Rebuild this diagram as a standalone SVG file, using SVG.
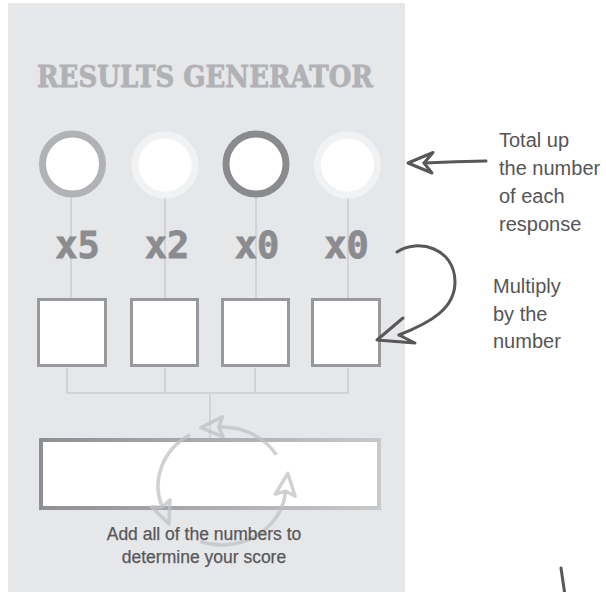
<svg xmlns="http://www.w3.org/2000/svg" width="606" height="592" viewBox="0 0 606 592">
  <defs>
    <style>
      .title { font-family: "DejaVu Serif", "Liberation Serif", serif; font-weight: bold; font-size: 29px; fill: #b1b2b5; stroke: #b1b2b5; stroke-width: 0.8; }
      .mult { font-family: "DejaVu Sans Mono", "Liberation Mono", monospace; font-weight: bold; font-size: 37px; fill: #8b8c8f; text-anchor: middle; stroke: #8b8c8f; stroke-width: 0.8; }
      .ring { fill: #ffffff; stroke-width: 7; }
      .box { fill: #ffffff; stroke: #98999c; stroke-width: 3; }
      .conn { stroke: #d2d3d5; stroke-width: 2; fill: none; }
      .note { font-family: "Liberation Sans", Arial, sans-serif; font-size: 20px; fill: #555556; }
      .foot { font-family: "Liberation Sans", Arial, sans-serif; font-size: 17.5px; fill: #58585a; text-anchor: middle; stroke: #58585a; stroke-width: 0.25; }
      .hand { stroke: #58585a; stroke-width: 3; fill: none; stroke-linecap: round; stroke-linejoin: round; }
      .cyc { stroke: #c0c1c4; stroke-opacity: 0.75; stroke-width: 3.5; fill: none; }
    </style>
    <linearGradient id="bigGrad" gradientUnits="userSpaceOnUse" x1="39" y1="0" x2="381" y2="0">
      <stop offset="0" stop-color="#8e8f92"/>
      <stop offset="1" stop-color="#c8c9cb"/>
    </linearGradient>
    <marker id="cycHead" markerUnits="userSpaceOnUse" markerWidth="40" markerHeight="40" refX="0" refY="0" orient="auto" overflow="visible" viewBox="-20 -20 40 40">
      <path d="M-3,-10 L19,0 L-3,10 L1,0 Z" fill="none" stroke="#c0c1c4" stroke-opacity="0.75" stroke-width="3.5" stroke-linejoin="round"/>
    </marker>
  </defs>

  <rect id="panel" x="8" y="3" width="397" height="589" fill="#e6e7e9"/>

  <g id="title">
    <text class="title" x="37" y="87" textLength="336" lengthAdjust="spacingAndGlyphs">RESULTS GENERATOR</text>
  </g>

  <g id="connectors">
    <line class="conn" x1="71" y1="197" x2="71" y2="298"/>
    <line class="conn" x1="165" y1="198" x2="165" y2="298"/>
    <line class="conn" x1="256" y1="197" x2="256" y2="298"/>
    <line class="conn" x1="348" y1="198" x2="348" y2="298"/>
    <line class="conn" x1="67" y1="368" x2="67" y2="393"/>
    <line class="conn" x1="165" y1="368" x2="165" y2="393"/>
    <line class="conn" x1="255" y1="368" x2="255" y2="393"/>
    <line class="conn" x1="348" y1="368" x2="348" y2="393"/>
    <line class="conn" x1="66" y1="393" x2="349" y2="393"/>
    <line class="conn" x1="210" y1="393" x2="210" y2="439"/>
  </g>

  <g id="circle1"><circle class="ring" cx="72.5" cy="164" r="30" stroke="#b1b2b5"/></g>
  <g id="circle2"><circle class="ring" cx="165" cy="165" r="30" stroke="#f1f2f3"/></g>
  <g id="circle3"><circle class="ring" cx="256" cy="164" r="30" stroke="#8a8b8e"/></g>
  <g id="circle4"><circle class="ring" cx="347.5" cy="165" r="30" stroke="#f1f2f3"/></g>

  <g id="mult1"><text class="mult" x="77.5" y="258">x5</text></g>
  <g id="mult2"><text class="mult" x="167" y="258">x2</text></g>
  <g id="mult3"><text class="mult" x="257" y="258">x0</text></g>
  <g id="mult4"><text class="mult" x="346.5" y="258">x0</text></g>

  <g id="box1"><rect class="box" x="38.5" y="299.5" width="67" height="66"/></g>
  <g id="box2"><rect class="box" x="131.5" y="299.5" width="66" height="66"/></g>
  <g id="box3"><rect class="box" x="222.5" y="299.5" width="66" height="66"/></g>
  <g id="box4"><rect class="box" x="312.5" y="299.5" width="67" height="66"/></g>

  <g id="total">
    <rect x="41" y="440" width="338" height="68" fill="#ffffff" stroke="url(#bigGrad)" stroke-width="4"/>
  </g>

  <g id="cycle">
    <path class="cyc" d="M276.3,454.7 A64,59 0 0 0 219.8,427.0" marker-end="url(#cycHead)"/>
    <path class="cyc" d="M200.1,541.4 A64,59 0 0 0 285.6,492.2" marker-end="url(#cycHead)"/>
    <path class="cyc" d="M190.0,434.9 A64,59 0 0 0 161.9,506.2" marker-end="url(#cycHead)"/>
  </g>

  <g id="footnote">
    <text class="foot" x="204" y="540">Add all of the numbers to</text>
    <text class="foot" x="204" y="563">determine your score</text>
  </g>

  <g id="note1">
    <text class="note" x="499" y="147">Total up</text>
    <text class="note" x="499" y="175">the number</text>
    <text class="note" x="499" y="203">of each</text>
    <text class="note" x="499" y="231">response</text>
  </g>

  <g id="note2">
    <text class="note" x="493" y="293">Multiply</text>
    <text class="note" x="493" y="321">by the</text>
    <text class="note" x="493" y="348">number</text>
  </g>

  <g id="hand-arrows">
    <path class="hand" d="M486,161 Q456,161.5 424,163"/>
    <path class="hand" d="M433,152.5 L408,163 L432,173 L424,163 Z"/>
    <path class="hand" d="M397,252 C418,238 455,248 455,282 C455,308 432,322 399,335"/>
    <path class="hand" d="M403,318 L377,340 L415,343 L399,335"/>
    <path class="hand" d="M561,568 L564.5,592"/>
  </g>
</svg>
